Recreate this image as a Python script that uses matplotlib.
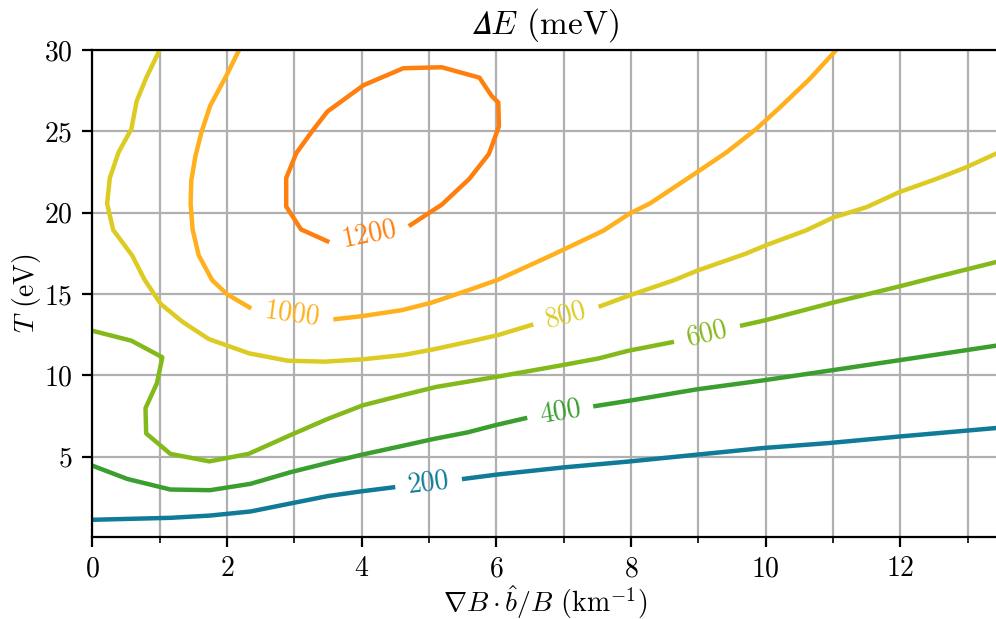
import math
import matplotlib
matplotlib.use("Agg")
import matplotlib.pyplot as plt
from matplotlib.ticker import MultipleLocator

plt.rcParams.update({
    "font.family": "serif",
    "font.serif": ["cmr10"],
    "mathtext.fontset": "cm",
    "axes.formatter.use_mathtext": True,
    "font.size": 10,
})

# Contour levels of the energy gap (meV) and their line colours
levels = [200, 400, 600, 800, 1000, 1200]
colours = ["#0f7b98", "#3a9f2e", "#84b91c", "#dccb22", "#ffb01c", "#ff7f0e"]

# Iso-lines traced in (grad B . b / B [km^-1], T [eV])
c200_x = [0.0, 1.16, 1.75, 2.35, 2.94, 3.50, 4.00, 4.50, 5.49, 6.01, 7.00, 7.99,
          8.73, 9.96, 10.95, 11.99, 13.45]
c200_y = [1.12, 1.24, 1.38, 1.63, 2.12, 2.58, 2.87, 3.13, 3.62, 3.90, 4.34, 4.71,
          5.02, 5.53, 5.84, 6.24, 6.77]

c400_x = [0.0, 0.52, 1.16, 1.75, 2.35, 2.94, 3.49, 4.00, 4.57, 5.06, 5.57, 6.01,
          6.46, 7.44, 7.99, 8.58, 8.98, 9.98, 10.95, 11.97, 13.45]
c400_y = [4.45, 3.63, 2.98, 2.94, 3.33, 4.04, 4.61, 5.12, 5.63, 6.08, 6.49, 6.96,
          7.39, 8.09, 8.45, 8.86, 9.14, 9.70, 10.29, 10.92, 11.84]

c600_x = [0.0, 0.58, 1.04, 0.96, 0.79, 0.80, 1.16, 1.74, 2.32, 2.94, 3.49, 4.02,
          4.57, 5.11, 5.57, 6.02, 7.00, 7.52, 7.96, 8.64, 9.62, 9.99, 10.98,
          12.00, 12.50, 13.45]
c600_y = [12.74, 12.13, 11.11, 9.52, 7.98, 6.43, 5.17, 4.71, 5.17, 6.32, 7.31,
          8.16, 8.74, 9.29, 9.61, 9.92, 10.64, 11.04, 11.51, 12.06, 13.04, 13.38,
          14.45, 15.48, 16.01, 16.99]

c800_x = [1.00, 0.80, 0.66, 0.58, 0.39, 0.26, 0.22, 0.31, 0.59, 0.78, 1.02, 1.34,
          1.73, 2.33, 2.90, 3.45, 4.03, 4.62, 5.07, 5.66, 6.03, 6.55, 7.52, 7.99,
          8.64, 9.00, 9.70, 10.02, 10.60, 11.01, 11.50, 11.99, 12.54, 12.98, 13.45]
c800_y = [30.0, 28.28, 26.87, 25.14, 23.71, 22.13, 20.55, 18.94, 17.38, 15.85,
          14.37, 13.29, 12.23, 11.35, 10.90, 10.84, 10.99, 11.25, 11.60, 12.13,
          12.48, 13.13, 14.21, 14.93, 15.85, 16.46, 17.47, 18.02, 18.91, 19.71,
          20.34, 21.27, 22.08, 22.79, 23.68]

c1000_x = [2.18, 1.99, 1.75, 1.62, 1.53, 1.47, 1.46, 1.49, 1.58, 1.78, 2.00, 2.36,
           3.58, 4.01, 4.60, 5.04, 5.47, 6.01, 6.79, 7.59, 7.99, 8.28, 8.87, 9.42,
           9.86, 10.21, 10.65, 11.05]
c1000_y = [30.0, 28.41, 26.57, 24.93, 23.44, 21.97, 20.55, 18.97, 17.38, 15.85,
           14.99, 14.11, 13.44, 13.64, 14.01, 14.47, 15.07, 15.85, 17.32, 18.89,
           19.97, 20.56, 22.18, 23.71, 25.14, 26.46, 28.20, 30.0]

c1200_x = [3.52, 3.10, 2.88, 2.88, 3.03, 3.26, 3.49, 4.03, 4.62, 5.19, 5.75, 5.93,
           6.03, 6.04, 5.89, 5.60, 5.19, 4.70]
c1200_y = [18.19, 18.97, 20.38, 22.13, 23.66, 24.98, 26.21, 27.84, 28.88, 28.94,
           28.30, 27.18, 26.77, 25.31, 23.61, 22.08, 20.49, 19.17]

# index of the vertex after which each line is broken for its inline label
label_after = [7, 12, 19, 21, 11, 17]

xs = [c200_x, c400_x, c600_x, c800_x, c1000_x, c1200_x]
ys = [c200_y, c400_y, c600_y, c800_y, c1000_y, c1200_y]

DPI = 200
fig = plt.figure(figsize=(996 / DPI, 619 / DPI), dpi=DPI)
ax = fig.add_axes([92.3 / 996, 1 - 536.7 / 619, (998.0 - 92.3) / 996, 486.7 / 619])
ax.set_xlim(0, (998.0 - 92.3) / 67.33)
ax.set_ylim(0.08, 30)

ax.xaxis.set_major_locator(MultipleLocator(2))
ax.xaxis.set_minor_locator(MultipleLocator(1))
ax.yaxis.set_major_locator(MultipleLocator(5))
ax.grid(True, which="both", axis="x", color="#b0b0b0", linewidth=0.8)
ax.grid(True, which="major", axis="y", color="#b0b0b0", linewidth=0.8)
ax.set_axisbelow(True)

for lev, col, x, y, k in zip(levels, colours, xs, ys, label_after):
    n = len(x)
    ax.plot(x[:k + 1], y[:k + 1], color=col, lw=1.6, solid_capstyle="butt")
    if k + 1 < n:
        ax.plot(x[k + 1:], y[k + 1:], color=col, lw=1.6, solid_capstyle="butt")
    j = (k + 1) % n
    p0 = ax.transData.transform((x[k], y[k]))
    p1 = ax.transData.transform((x[j], y[j]))
    ang = math.degrees(math.atan2(p1[1] - p0[1], p1[0] - p0[0]))
    if ang > 90:
        ang -= 180
    elif ang < -90:
        ang += 180
    ax.text((x[k] + x[j]) / 2, (y[k] + y[j]) / 2, str(lev), color=col,
            fontsize=10, rotation=ang, rotation_mode="anchor",
            ha="center", va="center")

ax.set_title("$\U0001D6E5E$ (meV)", fontsize=12)
ax.set_xlabel(r"$\nabla B \cdot \hat{b}/B$ (km$^{-1}$)", labelpad=0.1)
ax.set_ylabel(r"$T$ (eV)", labelpad=0.5)

fig.savefig("out.png", dpi=DPI)
